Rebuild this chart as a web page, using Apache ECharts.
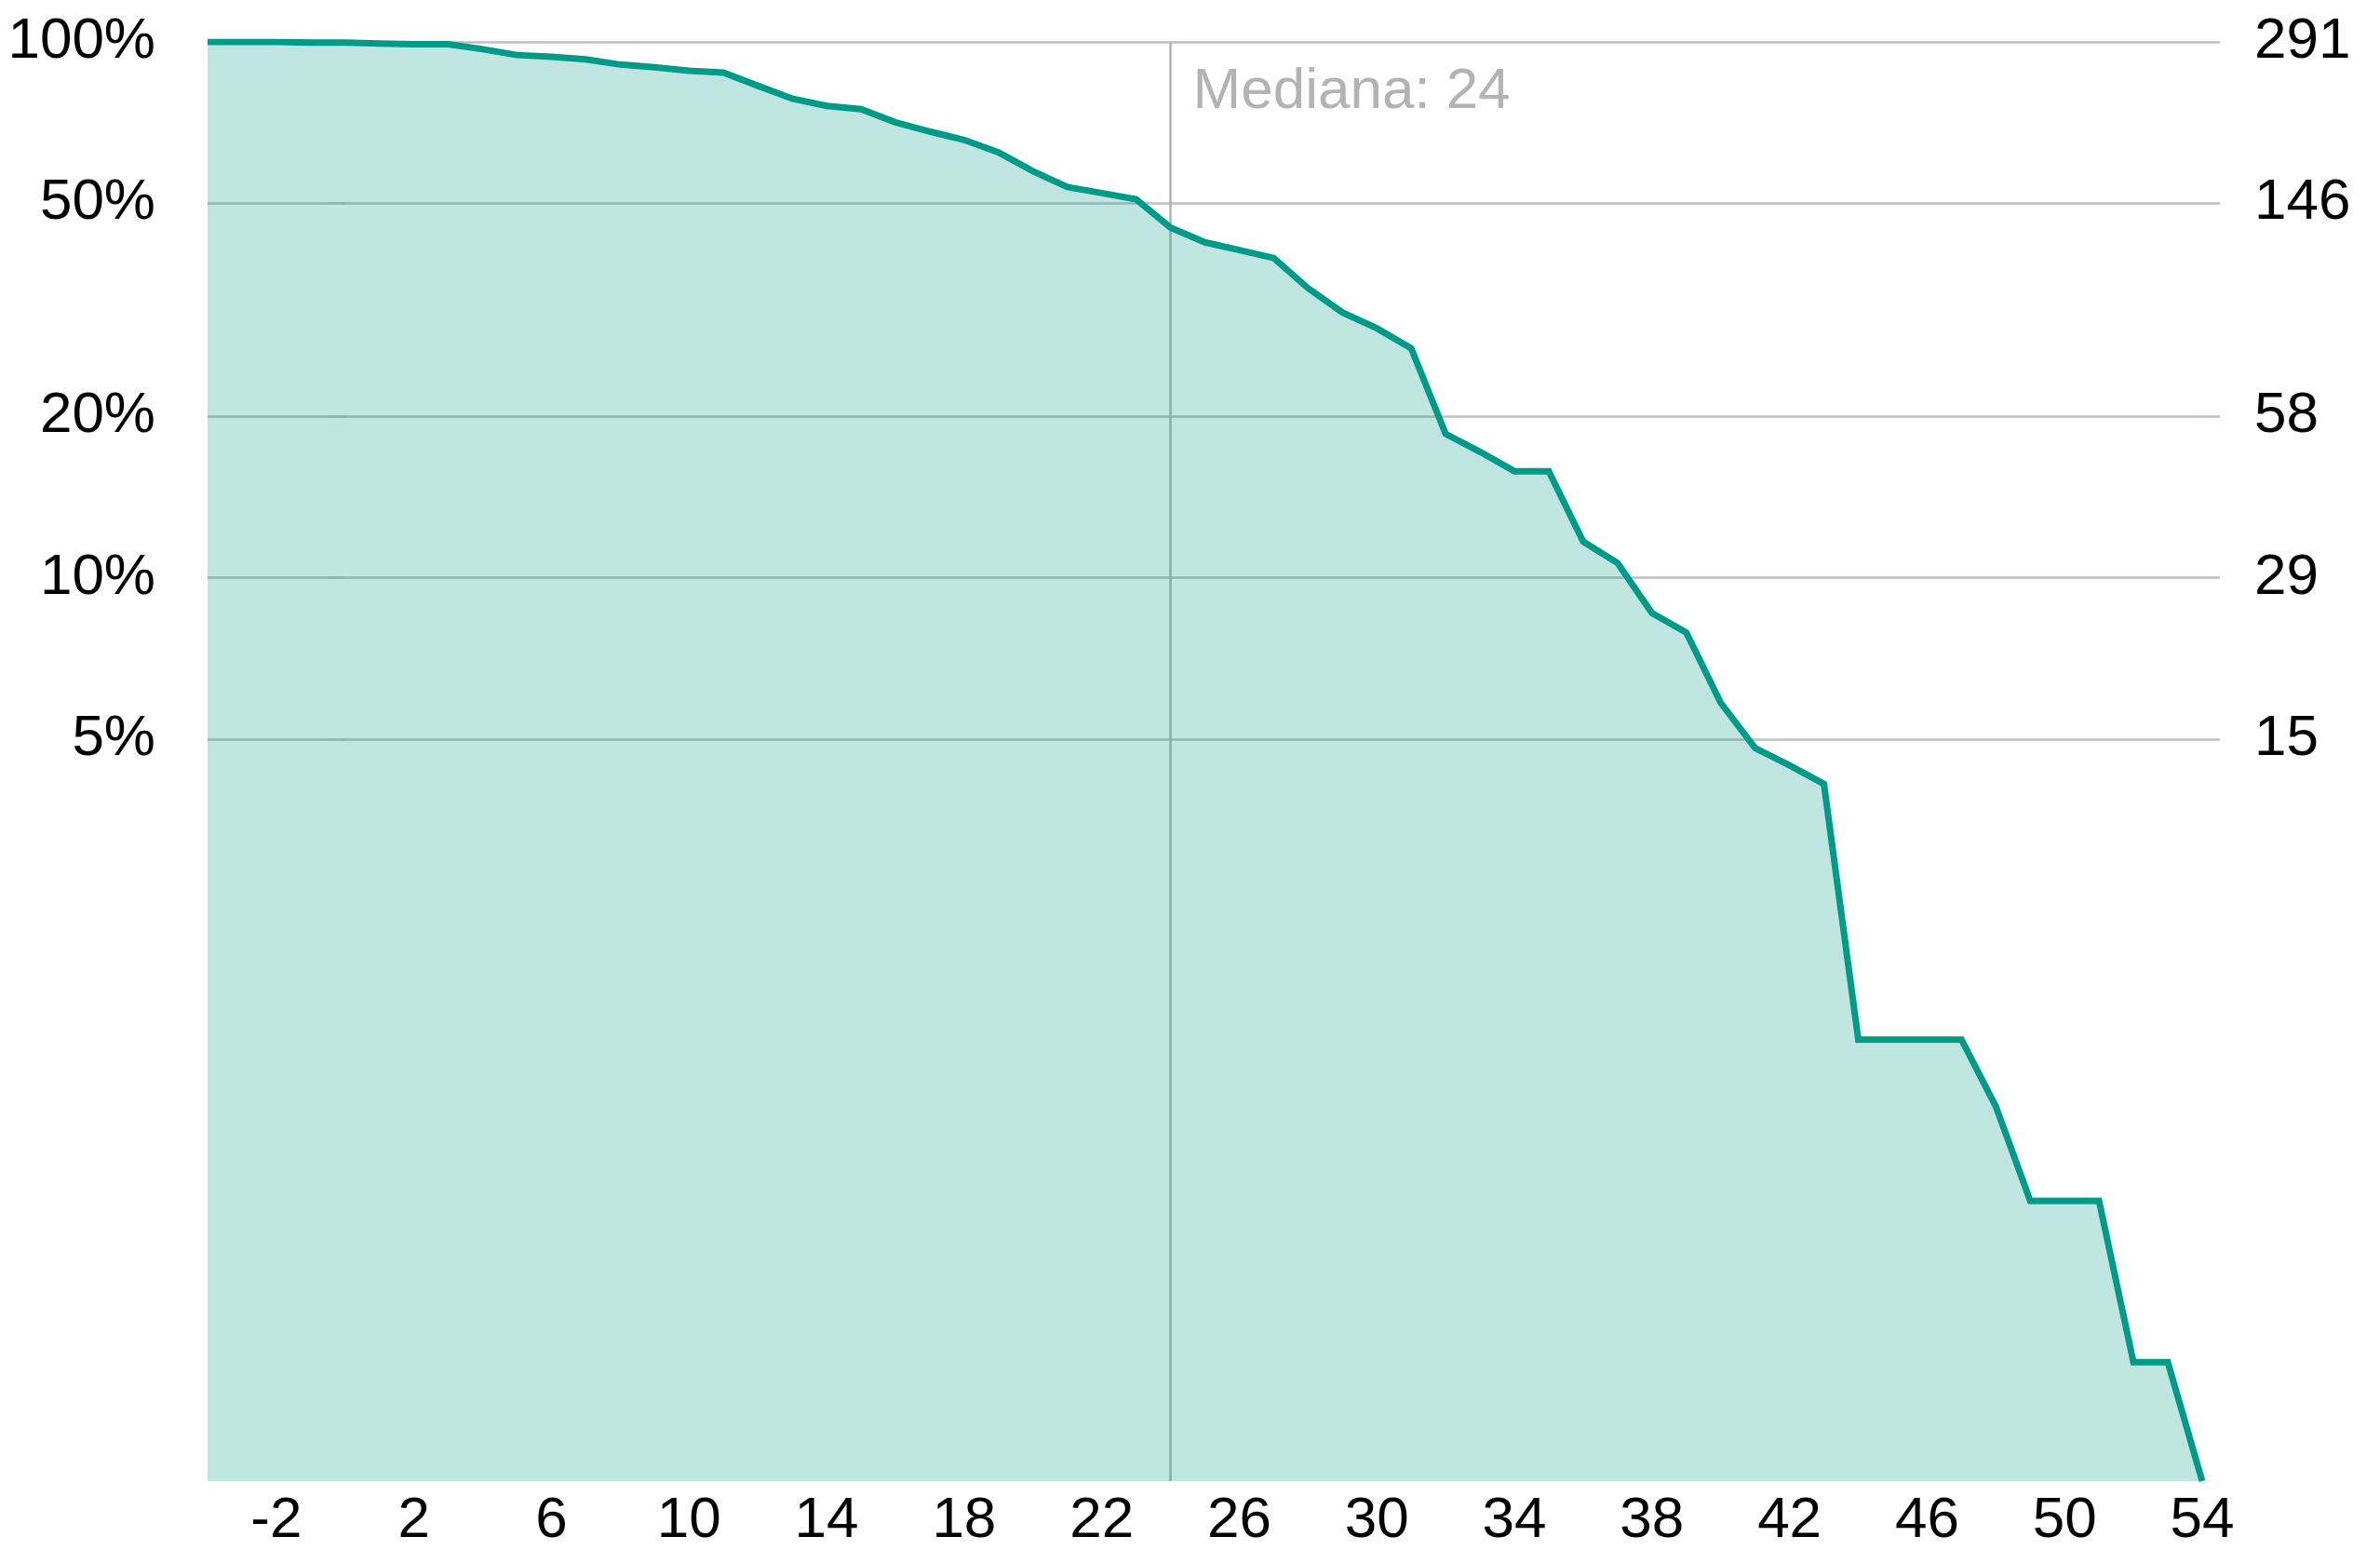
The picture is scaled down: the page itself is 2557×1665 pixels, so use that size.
<!DOCTYPE html>
<html>
<head>
<meta charset="utf-8">
<script src="https://cdn.jsdelivr.net/npm/echarts@6/dist/echarts.min.js"></script>
<style>
  html, body { margin: 0; padding: 0; background: #fff; }
  #chart { width: 2557px; height: 1665px; }
</style>
</head>
<body>
<div id="chart"></div>
<script>
// total at start, survivors per week
const total = 291;
const weeks = [-4, -3, -2, -1, 0, 1, 2, 3, 4, 5, 6, 7, 8, 9, 10, 11, 12, 13, 14, 15,
  16, 17, 18, 19, 20, 21, 22, 23, 24, 25, 26, 27, 28, 29, 30, 31, 32, 33, 34, 35,
  36, 37, 38, 39, 40, 41, 42, 43, 44, 45, 46, 47, 48, 49, 50, 51, 52, 53, 54];
const survivors = [291, 291, 291, 290, 290, 289, 288, 288, 282, 275, 273, 270, 264, 261, 257, 255,
  241, 228, 221, 218, 206, 198, 191, 181, 167, 156, 152, 148, 131, 123, 119, 115,
  101, 91, 85, 78, 54, 50, 46, 46, 34, 31, 25, 23, 17, 14, 13, 12,
  4, 4, 4, 4, 3, 2, 2, 2, 1, 1, 0];
const pctTicks = [100, 50, 20, 10, 5];
const countTicks = [291, 146, 58, 29, 15];
const xTicks = [-2, 2, 6, 10, 14, 18, 22, 26, 30, 34, 38, 42, 46, 50, 54];
const median = 24;
const medianText = "Mediana: 24";
// log axis floor (0 survivors is drawn down to it)
const yFloor = 0.6;

const lineColor = "#009a88";
const gridColor = "#bfbfbf";
const font = "'Liberation Sans', Arial, sans-serif";

const tickVals = pctTicks.map((p) => (total * p) / 100);
const nearest = (v) => {
  let best = 0;
  tickVals.forEach((t, i) => {
    if (Math.abs(Math.log(t) - Math.log(v)) < Math.abs(Math.log(tickVals[best]) - Math.log(v))) best = i;
  });
  return best;
};

const yBase = {
  type: "log",
  logBase: 10,
  min: yFloor,
  max: total,
  axisLine: { show: true, lineStyle: { color: gridColor, opacity: 0 } },
  axisTick: {
    show: true,
    inside: false,
    length: 19,
    customValues: tickVals,
    lineStyle: { color: gridColor, width: 2.5 },
  },
  axisLabel: {
    customValues: tickVals,
    fontSize: 62,
    fontFamily: font,
    color: "#000",
    margin: 56,
  },
};

const chart = echarts.init(document.getElementById("chart"));
chart.setOption({
  animation: false,
  grid: { left: 223, right: 191, top: 45, bottom: 74 },
  xAxis: {
    type: "value",
    min: -4,
    max: 54,
    axisLine: { show: false },
    axisTick: { show: false },
    splitLine: { show: false },
    axisLabel: {
      customValues: xTicks,
      fontSize: 62,
      fontFamily: font,
      color: "#000",
      margin: 12,
    },
  },
  yAxis: [
    Object.assign({}, yBase, {
      position: "left",
      splitLine: { show: true, lineStyle: { color: gridColor, width: 2.5 } },
      axisLabel: Object.assign({}, yBase.axisLabel, {
        formatter: (v) => pctTicks[nearest(v)] + "%",
      }),
    }),
    Object.assign({}, yBase, {
      position: "right",
      splitLine: { show: false },
      axisLabel: Object.assign({}, yBase.axisLabel, {
        formatter: (v) => String(countTicks[nearest(v)]),
      }),
    }),
  ],
  series: [
    {
      type: "line",
      yAxisIndex: 0,
      data: weeks.map((w, i) => [w, Math.max(survivors[i], yFloor)]),
      showSymbol: false,
      lineStyle: { color: lineColor, width: 7, join: "miter" },
      areaStyle: { color: lineColor, opacity: 0.25, origin: "start" },
      markLine: {
        silent: true,
        z: 1,
        symbol: "none",
        label: { show: false },
        lineStyle: { color: "#b3b3b3", width: 2.5, type: "solid" },
        data: [{ xAxis: median }],
      },
      markPoint: {
        silent: true,
        symbol: "circle",
        symbolSize: 0,
        itemStyle: { color: "transparent" },
        label: {
          show: true,
          formatter: medianText,
          position: [24, 54],
          align: "left",
          verticalAlign: "middle",
          fontSize: 62,
          fontFamily: font,
          color: "#b3b3b3",
        },
        data: [{ coord: [median, total] }],
      },
    },
  ],
});
</script>
</body>
</html>
